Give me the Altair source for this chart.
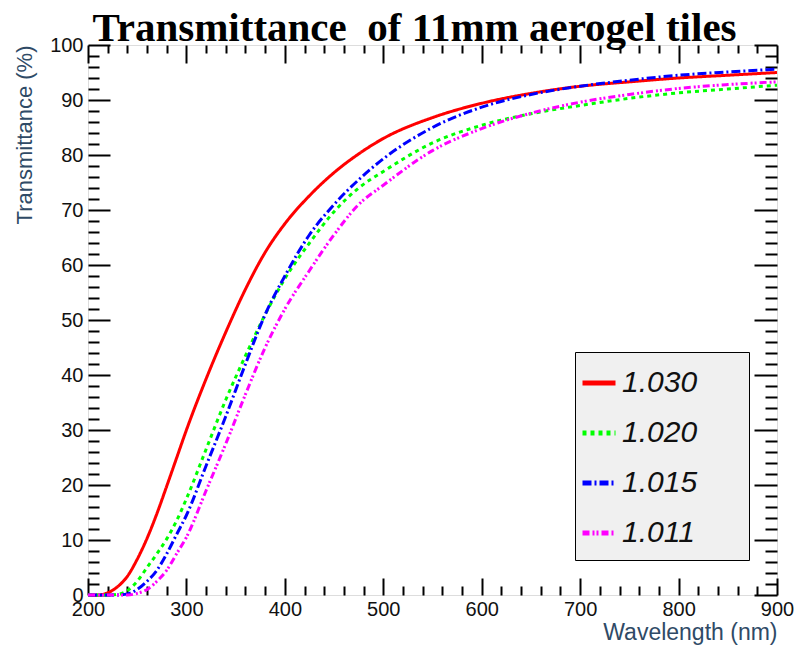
import altair as alt
import pandas as pd

# ---- data ----
wavelength = [200, 210, 220, 230, 240, 250, 260, 270, 280, 290, 300, 320, 340, 360,
              380, 400, 425, 450, 475, 500, 550, 600, 650, 700, 750, 800, 850, 900]
t_1030 = [0, 0, 0.4, 1.5, 3.4, 6.5, 10.3, 14.8, 19.8, 24.9, 30, 39.3, 47.8, 55.6,
          62.3, 67.5, 72.6, 76.8, 80.2, 83, 86.8, 89.4, 91.2, 92.5, 93.3, 94, 94.5, 95]
t_1020 = [0, 0, 0, 0.1, 0.8, 2.5, 5, 7.5, 10.2, 13.5, 17.5, 26.5, 35.5, 43.5,
          51, 57.5, 64, 69.7, 74, 77, 82.2, 85.4, 87.5, 89, 90.3, 91.3, 92, 92.7]
t_1015 = [0, 0, 0, 0, 0.2, 1, 2.5, 4.5, 7.5, 11, 14.5, 23.5, 32.5, 42,
          51, 58, 65.5, 71, 75.5, 79.3, 85, 88.7, 91, 92.5, 93.6, 94.5, 95.1, 95.6]
t_1011 = [0, 0, 0, 0, 0, 0.3, 1, 2.5, 4.5, 7.5, 10.5, 19, 27.5, 36.5,
          45, 52, 59, 65.5, 71, 74.5, 80.8, 84.8, 87.6, 89.6, 91, 92.1, 92.8, 93.3]
series_names = ["1.030", "1.020", "1.015", "1.011"]
series_values = [t_1030, t_1020, t_1015, t_1011]
series_colors = ["#ff0000", "#00ff00", "#0000ff", "#ff00ff"]
series_dashes = [[1, 0], [4, 4], [9, 3, 2, 3], [7, 3, 2, 2, 2, 3]]

title_text = "Transmittance\u00a0 of 11mm aerogel tiles"
x_title = "Wavelength (nm)"
y_title = "Transmittance (%)"

x_major = [200, 300, 400, 500, 600, 700, 800, 900]
x_minor = [v for v in range(200, 901, 20) if v % 100 != 0]
y_major = list(range(0, 101, 10))
y_minor = [v for v in range(0, 101, 2) if v % 10 != 0]

rows = []
for name, vals in zip(series_names, series_values):
    for w, t in zip(wavelength, vals):
        rows.append({"wl": w, "T": t, "series": name})
df = pd.DataFrame(rows)

xs = alt.Scale(domain=[200, 900], nice=False, zero=False)
ys = alt.Scale(domain=[0, 100], nice=False, zero=False)

LABEL_FONT = "Liberation Sans"
base = alt.Chart(df)

legend_kw = dict(
    orient="none", legendX=487, legendY=307,
    title="\u00a0", titleOrient="right", titlePadding=40, titleFontSize=8,
    symbolType="stroke", symbolSize=1089, symbolStrokeWidth=5, symbolOffset=-7,
    labelFont=LABEL_FONT, labelFontSize=30, labelFontStyle="italic",
    labelColor="#111", labelOffset=4,
    fillColor="#f0f0f0", strokeColor="black",
    padding=12, rowPadding=16,
)

lines = base.mark_line(strokeWidth=3, interpolate="monotone").encode(
    x=alt.X("wl:Q", scale=xs, axis=alt.Axis(
        orient="bottom", values=x_major, ticks=False, domain=False, grid=False,
        labelFont=LABEL_FONT, labelFontSize=20, labelColor="#111", labelPadding=4,
        labelFlush=False, labelOverlap=False,
        title=x_title, titleFont=LABEL_FONT, titleFontSize=23,
        titleFontWeight="normal", titleColor="#2f4a66",
        titleAlign="right", titleX=689, titleY=44, titleBaseline="alphabetic")),
    y=alt.Y("T:Q", scale=ys, axis=alt.Axis(
        orient="left", values=y_major, ticks=False, domain=False, grid=False,
        labelFont=LABEL_FONT, labelFontSize=20, labelColor="#111", labelPadding=5,
        labelFlush=False, labelOverlap=False,
        title=y_title, titleFont=LABEL_FONT, titleFontSize=22,
        titleFontWeight="normal", titleColor="#2f4a66", titleAngle=270,
        titleAlign="right", titleX=-57, titleY=0, titleBaseline="alphabetic")),
    color=alt.Color("series:N",
                    scale=alt.Scale(domain=series_names, range=series_colors),
                    legend=alt.Legend(**legend_kw)),
    strokeDash=alt.StrokeDash("series:N",
                              scale=alt.Scale(domain=series_names, range=series_dashes),
                              legend=alt.Legend(**legend_kw)),
)


def tick_layer(xorient, yorient, xvals, yvals, xlen, ylen, xtitle_kw=None):
    xaxis_kw = dict(
        orient=xorient, values=xvals, labels=False, domain=False, grid=False,
        ticks=True, tickSize=xlen, offset=-xlen, tickColor="black", tickWidth=2,
        title=None)
    if xtitle_kw:
        xaxis_kw.update(xtitle_kw)
    return base.mark_point(opacity=0).encode(
        x=alt.X("wl:Q", scale=xs, axis=alt.Axis(**xaxis_kw)),
        y=alt.Y("T:Q", scale=ys, axis=alt.Axis(
            orient=yorient, values=yvals, labels=False, domain=False, grid=False,
            ticks=True, tickSize=ylen, offset=-ylen, tickColor="black", tickWidth=2,
            title=None)),
    )


main_title = dict(
    title=title_text, titleFont="Liberation Serif", titleFontSize=41,
    titleFontWeight="bold", titleColor="black", titleAlign="center",
    titleX=326, titleY=-23, titleBaseline="alphabetic", titleAngle=0)

chart = alt.layer(
    lines,
    tick_layer("bottom", "left", x_major, y_major, 17, 22),
    tick_layer("bottom", "left", x_minor, y_minor, 9, 11),
    tick_layer("top", "right", x_major, y_major, 18, 23, main_title),
    tick_layer("top", "right", x_minor, y_minor, 8, 12),
).resolve_axis(x="independent", y="independent").properties(
    width=689,
    height=550,
    autosize=alt.AutoSizeParams(type="none"),
    padding={"left": 88, "top": 45, "right": 20, "bottom": 50},
).configure_view(stroke="black", strokeWidth=2).configure(background="white")

chart.save("out.html", embed_options={"renderer": "svg", "actions": False})
